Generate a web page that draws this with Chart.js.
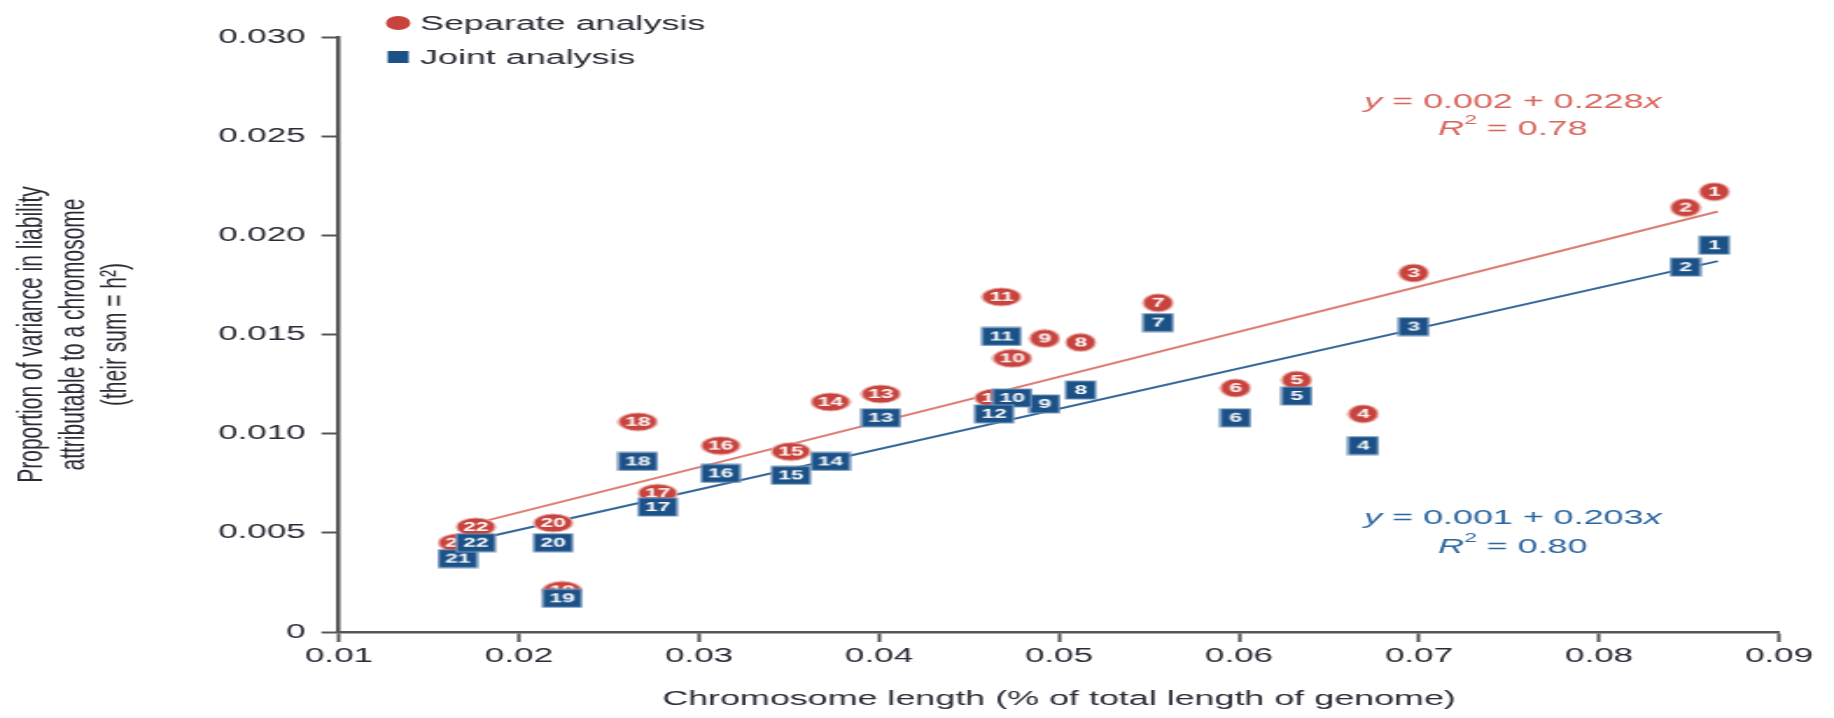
<!DOCTYPE html>
<html><head><meta charset="utf-8">
<script src="https://cdn.jsdelivr.net/npm/chart.js@4"></script>
<style>
html,body{margin:0;padding:0;background:#fff;overflow:hidden;width:1834px;height:718px;}
#wrap{position:absolute;left:0;top:0;width:1048px;height:718px;transform:scaleX(1.75);transform-origin:0 0;}
canvas{display:block;}
</style></head><body>
<div id="wrap"><canvas id="c" width="1048" height="718"></canvas></div>
<script>
// ---- data ----
const chromosomes = ['1','2','3','4','5','6','7','8','9','10','11','12','13','14','15','16','17','18','19','20','21','22'];
const chromLength = [0.0864,0.0848,0.0697,0.0669,0.0632,0.0598,0.0555,0.0512,0.0492,0.0474,0.0468,0.0464,0.0401,0.0373,0.0351,0.0312,0.0277,0.0266,0.0224,0.0219,0.0166,0.0176];
const separateH2 = [0.0222,0.0214,0.0181,0.0110,0.0127,0.0123,0.0166,0.0146,0.0148,0.0138,0.0169,0.0118,0.0120,0.0116,0.0091,0.0094,0.0070,0.0106,0.0021,0.0055,0.0045,0.0053];
const jointH2 = [0.0195,0.0184,0.0154,0.0094,0.0119,0.0108,0.0156,0.0122,0.0115,0.0118,0.0149,0.0110,0.0108,0.0086,0.0079,0.0080,0.0063,0.0086,0.0017,0.0045,0.0037,0.0045];
const fitX = [0.0168, 0.0866];
const separateFit = [0.0053, 0.0212];
const jointFit = [0.0045, 0.0187];
const fitIntercepts = ['0.002', '0.001'];
const fitSlopes = ['0.228', '0.203'];
const fitR2 = ['0.78', '0.80'];
const seriesNames = ['Separate analysis', 'Joint analysis'];
const xTicks = [0.01,0.02,0.03,0.04,0.05,0.06,0.07,0.08,0.09];
const xTickLabels = ['0.01','0.02','0.03','0.04','0.05','0.06','0.07','0.08','0.09'];
const yTicks = [0,0.005,0.010,0.015,0.020,0.025,0.030];
const yTickLabels = ['0','0.005','0.010','0.015','0.020','0.025','0.030'];
const xTitle = 'Chromosome length (% of total length of genome)';
const yTitle = ['Proportion of variance in liability','attributable to a chromosome','(their sum = h\u00B2)'];

// ---- styles ----
const FONT = "'Liberation Sans', Arial, Helvetica, sans-serif";
const RED = '#c8433d', RED_RIM = '#e8aaa4', RED_LINE = '#dc7f76', RED_TEXT = '#d8645c';
const BLUE = '#1b5187', BLUE_RIM = '#7a9cc0', BLUE_LINE = '#36679a', BLUE_TEXT = '#2c65a0';
const TEXT = '#2b2b38';

function makeMarker(label, shape) {
  const two = label.length > 1;
  const w = two ? 22 : 17;
  const h = 18;
  const c = document.createElement('canvas');
  c.width = w + 2; c.height = h + 2;
  const g = c.getContext('2d');
  g.fillStyle = shape === 'circle' ? RED : BLUE;
  g.strokeStyle = shape === 'circle' ? RED_RIM : BLUE_RIM;
  g.lineWidth = 1.2;
  g.beginPath();
  if (shape === 'circle') g.ellipse(c.width/2, c.height/2, w/2, h/2, 0, 0, Math.PI*2);
  else g.rect(1, 1, w, h);
  g.fill(); g.stroke();
  g.fillStyle = '#ffffff';
  g.font = 'bold 13px ' + FONT;
  g.textAlign = 'center'; g.textBaseline = 'middle';
  g.fillText(label, c.width/2, c.height/2 + 0.5);
  return c;
}

const sepPoints = chromLength.map((x, i) => ({x, y: separateH2[i]}));
const jointPoints = chromLength.map((x, i) => ({x, y: jointH2[i]}));

function drawRich(ctx, parts, cx, cy, color, size) {
  const fonts = parts.map(p => (p.it ? 'italic ' : '') + (p.sup ? Math.round(size*0.62) : size) + 'px ' + FONT);
  let total = 0;
  const widths = parts.map((p, i) => { ctx.font = fonts[i]; const w = ctx.measureText(p.t).width; total += w; return w; });
  let x = cx - total / 2;
  ctx.fillStyle = color; ctx.textAlign = 'left'; ctx.textBaseline = 'middle';
  parts.forEach((p, i) => {
    ctx.font = fonts[i];
    ctx.fillText(p.t, x, cy - (p.sup ? size*0.42 : 0));
    x += widths[i];
  });
}

const overlay = {
  id: 'overlay',
  afterDraw(chart) {
    const ctx = chart.ctx;
    ctx.save();
    // legend
    const lx = 227.5, ly = [23, 57];
    ctx.fillStyle = RED; ctx.beginPath(); ctx.arc(lx, ly[0], 7, 0, Math.PI*2); ctx.fill();
    ctx.fillStyle = BLUE; ctx.fillRect(lx - 6, ly[1] - 6, 12, 12);
    ctx.fillStyle = TEXT; ctx.font = '20.5px ' + FONT; ctx.textAlign = 'left'; ctx.textBaseline = 'middle';
    ctx.fillText(seriesNames[0], 240, ly[0] + 1);
    ctx.fillText(seriesNames[1], 240, ly[1] + 1);
    // equations
    const ex = 864.5;
    const rows = [[102, 129, RED_TEXT], [518, 547, BLUE_TEXT]];
    rows.forEach((r, k) => {
      drawRich(ctx, [{t:'y', it:true}, {t:' = ' + fitIntercepts[k] + ' + ' + fitSlopes[k]}, {t:'x', it:true}], ex, r[0], r[2], 20.5);
      drawRich(ctx, [{t:'R', it:true}, {t:'2', sup:true}, {t:' = ' + fitR2[k]}], ex, r[1], r[2], 20.5);
    });
    ctx.restore();
  }
};

new Chart(document.getElementById('c'), {
  type: 'scatter',
  data: {
    datasets: [
      { label: seriesNames[1], data: jointPoints, pointStyle: chromosomes.map(l => makeMarker(l, 'rect')), pointRadius: 9, showLine: false },
      { label: seriesNames[0], data: sepPoints, pointStyle: chromosomes.map(l => makeMarker(l, 'circle')), pointRadius: 9, showLine: false },
      { type: 'line', label: 'Joint fit', data: fitX.map((x, i) => ({x, y: jointFit[i]})), borderColor: BLUE_LINE, borderWidth: 2, pointRadius: 0, fill: false },
      { type: 'line', label: 'Separate fit', data: fitX.map((x, i) => ({x, y: separateFit[i]})), borderColor: RED_LINE, borderWidth: 2, pointRadius: 0, fill: false }
    ]
  },
  options: {
    responsive: false,
    animation: false,
    devicePixelRatio: 1,
    events: [],
    layout: { padding: { top: 37, right: 31.4, left: 0, bottom: 0 } },
    plugins: { legend: { display: false }, tooltip: { enabled: false } },
    scales: {
      x: {
        type: 'linear', min: 0.01, max: 0.09,
        afterBuildTicks: s => { s.ticks = xTicks.map(v => ({value: v})); },
        afterFit: s => { s.height = 86; },
        ticks: { callback: (v, i) => xTickLabels[i], font: { family: FONT, size: 20 }, color: TEXT, padding: 2, maxRotation: 0, autoSkip: false },
        grid: { drawOnChartArea: false, drawTicks: true, tickLength: 10, tickWidth: 2, tickColor: '#555' },
        border: { display: true, color: '#555', width: 2.5 },
        title: { display: true, text: xTitle, font: { family: FONT, size: 20.5 }, color: TEXT, padding: { top: 0, bottom: 6 } }
      },
      y: {
        type: 'linear', min: 0, max: 0.03,
        afterBuildTicks: s => { s.ticks = yTicks.map(v => ({value: v})); },
        afterFit: s => { s.width = 193.7; },
        ticks: { callback: (v, i) => yTickLabels[i], font: { family: FONT, size: 20 }, color: TEXT, padding: 9 },
        grid: { drawOnChartArea: false, drawTicks: true, tickLength: 10, tickWidth: 2, tickColor: '#555' },
        border: { display: true, color: '#555', width: 2.5 },
        title: { display: true, text: yTitle, font: { family: FONT, size: 21, lineHeight: 1.15 }, color: TEXT, padding: { top: 6, bottom: 0 } }
      }
    }
  },
  plugins: [overlay]
});
</script>
</body></html>
